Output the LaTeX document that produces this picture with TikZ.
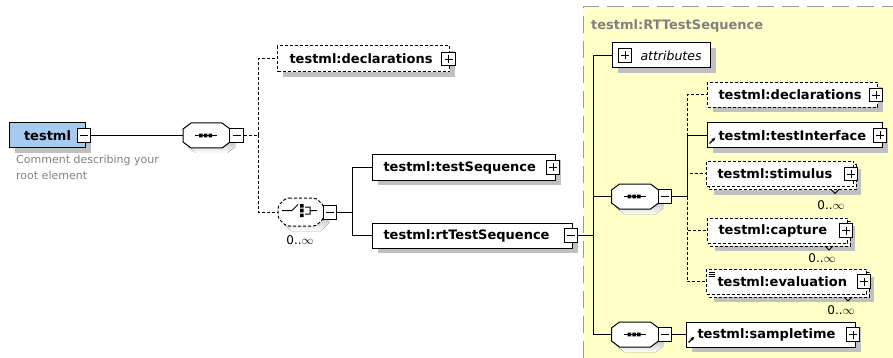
\documentclass[tikz,border=0pt]{standalone}
\usepackage{fontspec}
\setmainfont{DejaVu Sans}
\usetikzlibrary{arrows.meta,shadows}
\definecolor{panel}{HTML}{FFFFC8}
\definecolor{shade}{HTML}{C0C0C0}
\definecolor{rootblue}{HTML}{A6CAF0}
\definecolor{labelgray}{HTML}{808080}
\definecolor{framegray}{HTML}{9A9A9A}

\tikzset{
  conn/.style={line width=1pt},
  opt/.style={dash pattern=on 3pt off 2pt},
  shadowed/.style={drop shadow={shadow xshift=5pt, shadow yshift=-5pt, fill=shade, opacity=1}},
  elem/.style={draw, fill=white, line width=1pt, minimum height=25pt,
    inner xsep=0pt, inner ysep=0pt, anchor=west, align=left,
    font=\fontsize{13}{15}\selectfont\bfseries},
  toggle/.style={draw, fill=white, line width=0.9pt, minimum size=13.5pt, inner sep=0pt},
  plusbox/.style={toggle, path picture={
    \draw[line width=0.9pt] (path picture bounding box.center) ++(-4,0) -- ++(8,0)
      (path picture bounding box.center) ++(0,-4) -- ++(0,8);}},
  minusbox/.style={toggle, path picture={
    \draw[line width=0.9pt] (path picture bounding box.center) ++(-4,0) -- ++(8,0);}},
  occurs/.style={font=\fontsize{12}{14}\selectfont, inner sep=0pt},
  seqframe/.style={inner sep=0pt, minimum width=47pt, minimum height=25pt},
}

% sequence compositor: octagon with a dotted bar
\newcommand\seqicon[3]{%
  \node[seqframe] (#1) at (#2,#3) {};
  \fill[shade, shift={(#2+5,#3+5)}] (-15.5,-12.5) -- (15.5,-12.5) -- (23.5,-6.5) -- (23.5,6.5)
     -- (15.5,12.5) -- (-15.5,12.5) -- (-23.5,6.5) -- (-23.5,-6.5) -- cycle;
  \filldraw[fill=white, line width=1pt, shift={(#2,#3)}] (-15.5,-12.5) -- (15.5,-12.5) -- (23.5,-6.5)
     -- (23.5,6.5) -- (15.5,12.5) -- (-15.5,12.5) -- (-23.5,6.5) -- (-23.5,-6.5) -- cycle;
  \draw[line width=1pt, shift={(#2,#3)}] (-11.5,0) -- (10.5,0);
  \fill[shift={(#2,#3)}] (-7.5,-1.8) rectangle (-4,1.8) (-2.75,-1.8) rectangle (0.75,1.8)
     (2,-1.8) rectangle (5.5,1.8);
}

% second, stacked frame behind an element that may repeat
\newcommand\backframe[4]{%
  \filldraw[fill=white, line width=1pt, opt, shadowed] (#1+3,#2+3) rectangle (#3+3,#4+3);
  \draw[line width=0.8pt] (#3-22,#4+3) -- (#3-18,#4+7) -- (#3-14,#4+3);
}

\begin{document}
\begin{tikzpicture}[x=1pt, y=-1pt]
\useasboundingbox (0,0) rectangle (893,358);

% complex type panel
\fill[panel] (583,7) rectangle (893,358);
\draw[framegray, line width=1pt, dash pattern=on 17pt off 8pt] (583,358) -- (583,7) -- (893,7);
\node[anchor=west, inner sep=0pt, text=labelgray, font=\fontsize{13}{15}\selectfont\bfseries]
  (ctype) at (591,26) {testml:RTTestSequence};

% root element
\node[elem, fill=rootblue, text width=76pt, align=center, shadowed] (root) at (9,135.5) {testml};
\node[minusbox] (rootT) at (84,135.5) {};
\node[anchor=north west, align=left, inner sep=0pt, text=labelgray,
  font=\fontsize{11}{15.5}\selectfont] (rootdoc) at (16,155) {Comment describing your\\root element};

% first sequence
\seqicon{seq1}{206.5}{135.5}
\node[minusbox] (seq1T) at (236.5,135.5) {};

\node[elem, opt, text width=172pt, minimum height=26pt, shadowed] (decl1) at (277,59) {\hspace*{12pt}testml:declarations};
\node[plusbox] (decl1T) at (448.5,59) {};

% choice compositor
\node[inner sep=0pt, minimum width=46pt, minimum height=28pt] (choice) at (301,212) {};
\fill[shade, shift={(306,217)}] (-15,-14) -- (15,-14) -- (23,-6) -- (23,6) -- (15,14) -- (-15,14) -- (-23,6) -- (-23,-6) -- cycle;
\filldraw[fill=white, line width=1pt, opt, rounded corners=3pt, shift={(301,212)}]
  (-15,-14) -- (15,-14) -- (23,-6) -- (23,6) -- (15,14) -- (-15,14) -- (-23,6) -- (-23,-6) -- cycle;
\draw[line width=1pt, shift={(301,212)}] (-19,-1.5) -- (-9,-1.5) -- (-3,-7.5)
  (4,-5) -- (9,-5) -- (9,2) -- (4,2) (9,-1.5) -- (16,-1.5);
\fill[shift={(301,212)}] (-1,-8) rectangle (2.5,-4.5) (-1,-3.3) rectangle (2.5,0.3) (-1,1.5) rectangle (2.5,5);
\node[minusbox] (choiceT) at (330,212.5) {};
\node[occurs] (choiceN) at (300,240) {0..$\infty$};

\node[elem, text width=183pt, shadowed] (tseq) at (372,167.5) {\hspace*{11pt}testml:testSequence};
\node[plusbox] (tseqT) at (553,167.5) {};
\node[elem, text width=200pt, shadowed] (rtseq) at (372,235.5) {\hspace*{11pt}testml:rtTestSequence};
\node[minusbox] (rtseqT) at (571,235.5) {};

% content of testml:RTTestSequence
\node[elem, text width=98pt, font=\fontsize{12.5}{15}\selectfont\itshape, shadowed] (attr) at (612,55.5) {\hspace*{28pt}attributes};
\node[plusbox] (attrT) at (625,55.5) {};

\seqicon{seq2}{635}{196.5}
\node[minusbox] (seq2T) at (665,196.5) {};

\node[elem, opt, text width=170pt, shadowed] (decl2) at (707,95) {\hspace*{11pt}testml:declarations};
\node[plusbox] (decl2T) at (876,95) {};

\node[elem, text width=175pt, shadowed] (tif) at (707,135.5) {\hspace*{11pt}testml:testInterface};
\draw[line width=1.1pt, -{Latex[length=4pt,width=4pt]}] (709.5,143.5) -- (715.5,137.5);
\node[plusbox] (tifT) at (880,135.5) {};

\backframe{706}{161.5}{853}{186.5}
\node[elem, opt, text width=147pt] (stim) at (706,174) {\hspace*{11pt}testml:stimulus};
\node[plusbox] (stimT) at (851,174) {};
\node[occurs] (stimN) at (831,205) {0..$\infty$};

\backframe{707}{218}{847}{243}
\node[elem, opt, text width=140pt] (capt) at (707,230.5) {\hspace*{11pt}testml:capture};
\node[plusbox] (captT) at (846,230.5) {};
\node[occurs] (captN) at (822,258) {0..$\infty$};

\backframe{706}{269}{866}{294}
\node[elem, opt, text width=160pt] (eval) at (706,281.5) {\hspace*{11pt}testml:evaluation};
\draw[line width=0.7pt] (709,272) -- (715,272) (709,274.2) -- (715,274.2) (709,276.4) -- (715,276.4);
\node[plusbox] (evalT) at (864,281.5) {};
\node[occurs] (evalN) at (841,310) {0..$\infty$};

\seqicon{seq3}{635}{334.5}
\node[minusbox] (seq3T) at (665,334.5) {};
\node[elem, text width=169pt, shadowed] (stime) at (686,334.5) {\hspace*{11pt}testml:sampletime};
\draw[line width=1.1pt, -{Latex[length=4pt,width=4pt]}] (688.5,342.5) -- (694.5,336.5);
\node[plusbox] (stimeT) at (853,334.5) {};

% junction points of the connector trees
\coordinate (busA) at (258,135.5);
\coordinate (busB) at (352,212.5);
\coordinate (busC) at (593,235.5);
\coordinate (busD) at (687,196.5);

% connectors
\draw[conn] (rootT.east) -- (seq1.west);
\draw[conn, opt] (seq1T.east) -- (busA) |- (decl1.west);
\draw[conn, opt] (busA) |- (choice.west);
\draw[conn] (choiceT.east) -- (busB) |- (tseq.west);
\draw[conn] (busB) |- (rtseq.west);
\draw[conn] (rtseqT.east) -- (busC) |- (attr.west);
\draw[conn] (busC) |- (seq2.west);
\draw[conn] (busC) |- (seq3.west);
\draw[conn, opt] (busD) |- (decl2.west);
\draw[conn, opt] (busD) |- (stim.west);
\draw[conn, opt] (busD) |- (capt.west);
\draw[conn, opt] (busD) |- (eval.west);
\draw[conn] (seq2T.east) -- (busD) |- (tif.west);
\draw[conn] (seq3T.east) -- (stime.west);
\end{tikzpicture}
\end{document}
